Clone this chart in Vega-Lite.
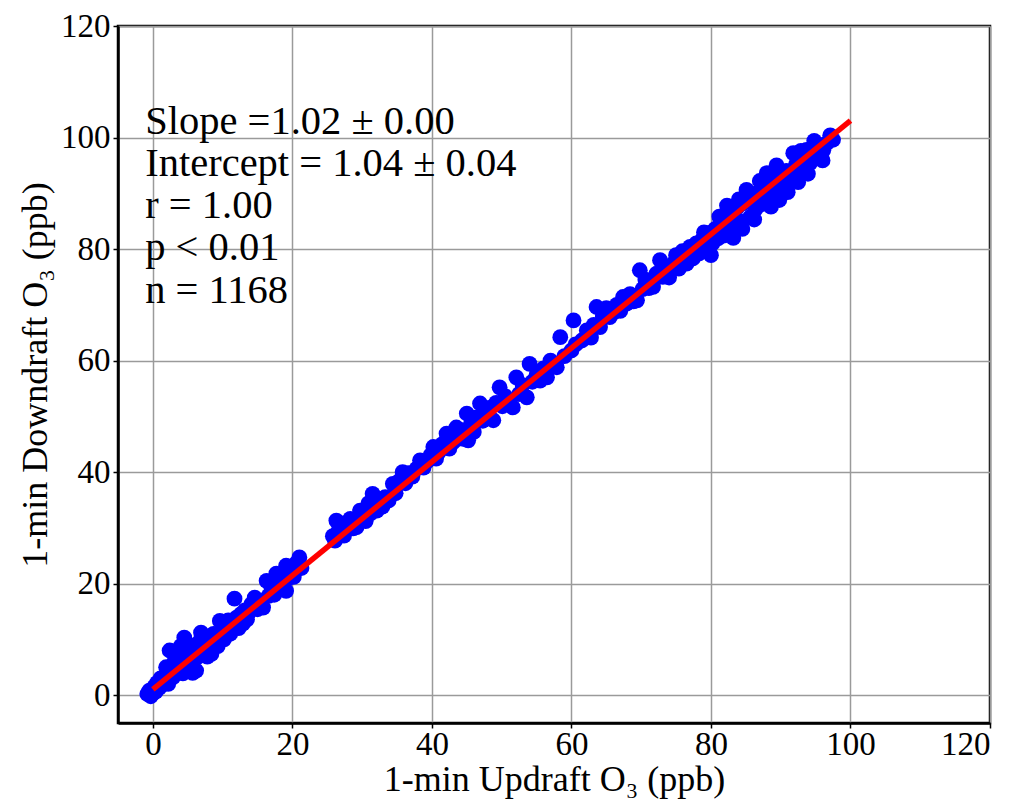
{
  "$schema": "https://vega.github.io/schema/vega-lite/v6.json",
  "width": 872,
  "height": 697,
  "autosize": {"type": "none"},
  "padding": {"left": 118, "top": 26, "right": 29, "bottom": 84},
  "background": "white",
  "config": {
    "view": {"stroke": "black", "strokeWidth": 2.5},
    "font": "Liberation Serif",
    "axis": {
      "labelFont": "Liberation Serif",
      "labelFontSize": 33,
      "labelColor": "black",
      "titleFont": "Liberation Serif",
      "titleFontSize": 36,
      "titleFontWeight": "normal",
      "titleColor": "black",
      "domainColor": "black",
      "domainWidth": 2.5,
      "tickColor": "black",
      "tickWidth": 1.5,
      "tickSize": 5,
      "labelPadding": 3,
      "gridColor": "#9a9a9a",
      "gridWidth": 1.5,
      "gridOpacity": 1
    }
  },
  "datasets": {
    "pts": [
      {"up":-0.8,"down":0.2},{"up":-0.5,"down":0.8},{"up":-0.3,"down":-0.2},{"up":0,"down":0.3},{"up":0.2,"down":1.5},{"up":0.4,"down":0.6},{"up":0.6,"down":2.2},{"up":0.9,"down":1.3},{"up":1.1,"down":3.0},{"up":1.3,"down":1.8},{"up":1.6,"down":2.6},{"up":1.9,"down":5.0},{"up":1.8,"down":3.4},{"up":2.2,"down":2.0},{"up":2.4,"down":8.0},{"up":2.6,"down":4.1},{"up":2.9,"down":3.2},{"up":3.1,"down":6.0},{"up":3.3,"down":7.9},{"up":3.5,"down":4.6},{"up":3.8,"down":5.5},{"up":4.0,"down":8.8},{"up":4.3,"down":3.9},{"up":4.5,"down":10.3},{"up":4.7,"down":6.6},{"up":5.0,"down":5.3},{"up":5.2,"down":9.0},{"up":5.5,"down":7.4},{"up":5.7,"down":4.0},{"up":6.0,"down":8.2},{"up":6.2,"down":4.4},{"up":6.4,"down":6.8},{"up":6.7,"down":9.6},{"up":6.9,"down":11.2},{"up":7.2,"down":7.6},{"up":7.5,"down":10.0},{"up":7.8,"down":6.9},{"up":8.1,"down":9.2},{"up":8.4,"down":7.4},{"up":8.7,"down":11.0},{"up":9.0,"down":10.2},{"up":9.3,"down":8.8},{"up":9.6,"down":13.3},{"up":9.9,"down":11.5},{"up":10.2,"down":10.0},{"up":10.5,"down":12.4},{"up":10.8,"down":13.4},{"up":11.1,"down":11.0},{"up":11.4,"down":12.8},{"up":11.7,"down":17.3},{"up":12.0,"down":13.9},{"up":12.3,"down":12.0},{"up":12.6,"down":14.5},{"up":12.9,"down":12.8},{"up":13.2,"down":15.2},{"up":13.5,"down":13.6},{"up":13.8,"down":14.9},{"up":14.1,"down":16.3},{"up":14.6,"down":17.5},{"up":15.0,"down":15.4},{"up":15.4,"down":16.9},{"up":15.8,"down":15.7},{"up":16.3,"down":20.5},{"up":16.6,"down":17.8},{"up":17.0,"down":19.2},{"up":17.4,"down":18.0},{"up":17.7,"down":21.8},{"up":18.1,"down":20.0},{"up":18.5,"down":19.6},{"up":18.8,"down":21.3},{"up":19.1,"down":18.7},{"up":19.1,"down":23.2},{"up":19.5,"down":21.0},{"up":19.8,"down":22.4},{"up":20.2,"down":21.2},{"up":20.5,"down":23.6},{"up":21.0,"down":24.7},{"up":21.3,"down":22.8},
      {"up":25.8,"down":28.5},{"up":26.1,"down":27.7},{"up":26.3,"down":31.3},{"up":26.6,"down":29.4},{"up":27.0,"down":30.8},{"up":27.4,"down":28.6},{"up":27.8,"down":30.0},{"up":28.3,"down":31.6},{"up":28.7,"down":29.9},{"up":29.2,"down":30.1},{"up":29.7,"down":33.1},{"up":30.1,"down":32.0},{"up":30.5,"down":31.2},{"up":30.9,"down":34.4},{"up":31.2,"down":32.6},{"up":31.5,"down":36.1},{"up":31.8,"down":34.0},{"up":32.1,"down":33.1},{"up":32.5,"down":35.2},{"up":32.9,"down":33.8},{"up":33.3,"down":35.5},{"up":33.8,"down":34.9},{"up":34.4,"down":37.9},{"up":34.8,"down":36.2},{"up":35.3,"down":38.4},{"up":35.8,"down":40.0},{"up":36.2,"down":38.0},{"up":36.6,"down":39.8},{"up":37.2,"down":39.2},{"up":37.8,"down":40.6},{"up":38.3,"down":42.1},{"up":38.8,"down":40.8},{"up":39.3,"down":41.9},{"up":39.8,"down":43.0},{"up":40.2,"down":44.5},{"up":40.6,"down":42.4},{"up":41.0,"down":43.6},{"up":41.5,"down":45.0},{"up":42.1,"down":46.9},{"up":42.5,"down":44.2},{"up":43.0,"down":45.3},{"up":43.5,"down":48.0},{"up":43.9,"down":46.0},{"up":44.3,"down":47.5},{"up":44.7,"down":45.9},{"up":45.0,"down":50.5},{"up":45.2,"down":45.7},{"up":45.6,"down":48.6},{"up":46.0,"down":47.2},{"up":46.4,"down":49.8},{"up":46.9,"down":52.3},{"up":47.3,"down":49.2},{"up":47.7,"down":50.8},{"up":48.2,"down":51.5},{"up":48.8,"down":49.3},{"up":49.2,"down":52.4},{"up":49.7,"down":55.2},{"up":50.1,"down":51.8},{"up":50.5,"down":53.6},{"up":51.0,"down":52.4},{"up":51.6,"down":51.6},{"up":52.1,"down":57.0},{"up":52.5,"down":54.0},{"up":53.0,"down":55.6},{"up":53.6,"down":53.4},{"up":54.0,"down":59.4},{"up":54.4,"down":56.2},{"up":55.0,"down":57.4},{"up":55.5,"down":56.4},{"up":56.0,"down":58.6},{"up":56.5,"down":57.0},{"up":57.0,"down":60.0},{"up":57.4,"down":59.4},{"up":57.9,"down":58.8},{"up":58.4,"down":64.2},{"up":59.0,"down":60.8},{"up":60.0,"down":61.8},{"up":60.3,"down":67.2},{"up":60.6,"down":62.9},
      {"up":61.5,"down":63.6},{"up":62.2,"down":65.4},{"up":62.8,"down":64.1},{"up":63.2,"down":66.4},{"up":63.6,"down":69.6},{"up":64.1,"down":66.0},{"up":64.5,"down":67.9},{"up":65.0,"down":69.4},{"up":65.5,"down":67.8},{"up":66.0,"down":68.6},{"up":66.5,"down":70.0},{"up":67.0,"down":68.9},{"up":67.4,"down":71.4},{"up":67.9,"down":70.2},{"up":68.4,"down":71.9},{"up":68.9,"down":70.6},{"up":69.4,"down":70.8},{"up":69.8,"down":76.2},{"up":70.2,"down":72.8},{"up":70.6,"down":74.5},{"up":71.1,"down":73.0},{"up":71.7,"down":73.2},{"up":72.2,"down":75.6},{"up":72.7,"down":78.0},{"up":73.1,"down":75.0},{"up":73.5,"down":76.8},{"up":74.0,"down":74.9},{"up":74.6,"down":77.4},{"up":75.0,"down":78.9},{"up":75.4,"down":76.5},{"up":75.9,"down":79.6},{"up":76.5,"down":77.4},{"up":77.0,"down":80.4},{"up":77.4,"down":78.3},{"up":77.9,"down":81.0},{"up":78.3,"down":79.2},{"up":78.8,"down":81.8},{"up":79.4,"down":79.8},{"up":79.8,"down":82.9},{"up":80.2,"down":81.0},{"up":80.6,"down":83.6},{"up":81.0,"down":81.9},{"up":81.4,"down":84.5},{"up":81.8,"down":82.4},{"up":82.3,"down":87.8},{"up":82.6,"down":83.5},{"up":83.0,"down":86.4},{"up":83.4,"down":84.2},{"up":83.8,"down":87.5},{"up":84.2,"down":85.0},{"up":84.6,"down":88.2},{"up":85.1,"down":90.6},{"up":85.6,"down":85.7},{"up":86.0,"down":89.4},{"up":86.4,"down":87.2},{"up":86.8,"down":90.2},{"up":87.2,"down":88.0},{"up":87.6,"down":91.5},{"up":88.0,"down":93.6},{"up":88.4,"down":89.2},{"up":88.8,"down":92.4},{"up":89.2,"down":90.0},{"up":89.6,"down":93.2},{"up":90.0,"down":91.0},{"up":90.4,"down":91.8},{"up":90.8,"down":94.0},{"up":91.3,"down":92.5},{"up":91.8,"down":97.2},{"up":92.2,"down":95.2},{"up":92.7,"down":93.9},{"up":93.2,"down":96.4},{"up":93.7,"down":97.8},{"up":94.2,"down":95.4},{"up":94.7,"down":97.5},{"up":95.2,"down":96.3},{"up":95.6,"down":98.6},{"up":96.1,"down":97.7},{"up":96.6,"down":99.0},{"up":97.1,"down":100.4},{"up":97.5,"down":99.6},
      {"up":80.0,"down":78.9},{"up":83.2,"down":82.0},{"up":86.2,"down":85.3},{"up":88.6,"down":87.6},{"up":91.0,"down":90.2},{"up":93.9,"down":93.5},{"up":96.0,"down":95.9},{"up":84.5,"down":83.6},{"up":89.8,"down":88.8},{"up":92.5,"down":92.0},{"up":79.0,"down":83.0},{"up":81.2,"down":85.8},{"up":84.0,"down":88.9},{"up":87.0,"down":92.2},{"up":89.4,"down":95.0},{"up":92.9,"down":97.6},{"up":94.8,"down":99.4}
    ],
    "fit": [{"up":0,"down":1.04},{"up":100,"down":103.04}],
    "notes": [
      {"up":-1.1,"down":100.6,"label":"Slope =1.02 ± 0.00"},
      {"up":-1.1,"down":93.1,"label":"Intercept = 1.04 ± 0.04"},
      {"up":-1.1,"down":85.5,"label":"r = 1.00"},
      {"up":-1.1,"down":78.0,"label":"p < 0.01"},
      {"up":-1.1,"down":70.3,"label":"n = 1168"}
    ]
  },
  "encoding": {
    "x": {"field": "up", "type": "quantitative",
      "scale": {"domain": [-5, 120], "nice": false, "zero": false},
      "axis": {"title": "1-min Updraft O₃ (ppb)", "values": [0,20,40,60,80,100,120], "labelPadding": 0, "titleBaseline": "alphabetic", "titleY": 67}},
    "y": {"field": "down", "type": "quantitative",
      "scale": {"domain": [-5, 120], "nice": false, "zero": false},
      "axis": {"title": "1-min Downdraft O₃ (ppb)", "values": [0,20,40,60,80,100,120], "titlePadding": 6}}
  },
  "layer": [
    {"data": {"name": "pts"}, "mark": {"type": "circle", "size": 250, "color": "#0000ff", "opacity": 1}},
    {"data": {"name": "fit"}, "mark": {"type": "line", "color": "#ff0000", "strokeWidth": 5.5}},
    {"data": {"name": "notes"}, "mark": {"type": "text", "align": "left", "baseline": "alphabetic", "fontSize": 40.5, "font": "Liberation Serif", "color": "black"}, "encoding": {"text": {"field": "label"}}}
  ]
}
